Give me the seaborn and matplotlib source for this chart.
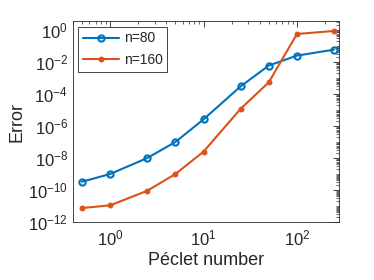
# Error vs Peclet number for two grid sizes
import numpy as np
import pandas as pd
import matplotlib
matplotlib.use("Agg")
import matplotlib.pyplot as plt
import matplotlib.ticker as mticker
import seaborn as sns

# data
peclet = [0.5, 1, 2.5, 5, 10, 25, 50, 100, 250]
err_n80 = [3.3e-10, 1.0e-9, 1.0e-8, 1.0e-7, 2.6e-6, 3.0e-4, 6.0e-3, 2.5e-2, 5.9e-2]
err_n160 = [7.5e-12, 1.1e-11, 9.0e-11, 1.0e-9, 2.5e-8, 1.2e-5, 5.4e-4, 0.56, 0.87]
labels = ["n=80", "n=160"]

df = pd.DataFrame({
    "Pe": peclet * 2,
    "Error": err_n80 + err_n160,
    "grid": [labels[0]] * len(peclet) + [labels[1]] * len(peclet),
})

sns.set_style("white")
plt.rcParams['font.family'] = ['Liberation Sans', 'DejaVu Sans']
plt.rcParams['mathtext.fontset'] = 'custom'
plt.rcParams['mathtext.rm'] = 'Liberation Sans'

blue = "#0072BD"
orange = "#D95319"

fig = plt.figure(figsize=(3.74, 2.80), dpi=100)
ax = fig.add_axes([0.195, 0.207, 0.711, 0.718])

sns.lineplot(data=df[df.grid == labels[0]], x="Pe", y="Error", ax=ax, color=blue,
             lw=1.5, marker="o", markersize=4.5, markerfacecolor="none",
             markeredgecolor=blue, markeredgewidth=1.5, label=labels[0])
sns.lineplot(data=df[df.grid == labels[1]], x="Pe", y="Error", ax=ax, color=orange,
             lw=1.5, marker="o", markersize=3.5, markerfacecolor=orange,
             markeredgecolor=orange, label=labels[1])

ax.set_xscale("log")
ax.set_yscale("log")
ax.set_xlim(0.4, 281)
ax.set_ylim(1e-12, 10 ** 0.56)

ax.yaxis.set_major_locator(mticker.FixedLocator([10.0 ** k for k in range(-12, 1, 2)]))
ax.yaxis.set_minor_locator(mticker.LogLocator(base=10, subs=np.arange(1, 10), numticks=100))
ax.yaxis.set_minor_formatter(mticker.NullFormatter())
ax.xaxis.set_major_locator(mticker.FixedLocator([1, 10, 100]))
ax.xaxis.set_minor_locator(mticker.LogLocator(base=10, subs=np.arange(2, 10), numticks=100))
ax.xaxis.set_minor_formatter(mticker.NullFormatter())

ax.tick_params(which="both", direction="in", top=True, right=True, colors="#262626",
               labelsize=12)
ax.tick_params(axis="x", which="major", pad=5)
ax.tick_params(which="major", length=4, width=0.6)
ax.tick_params(which="minor", length=2, width=0.5)
for s in ax.spines.values():
    s.set_color("#262626")
    s.set_linewidth(0.6)

ax.set_xlabel("Péclet number", fontsize=13, color="#262626", labelpad=2)
ax.set_ylabel("Error", fontsize=13, color="#262626", labelpad=2)

leg = ax.legend(loc="upper left", fontsize=10, frameon=True, fancybox=False,
                edgecolor="#262626", framealpha=1, handlelength=2.6,
                borderaxespad=0.4, borderpad=0.35, labelspacing=0.55, handletextpad=0.3)
leg.get_frame().set_linewidth(0.6)

fig.savefig("out.png", dpi=100)
